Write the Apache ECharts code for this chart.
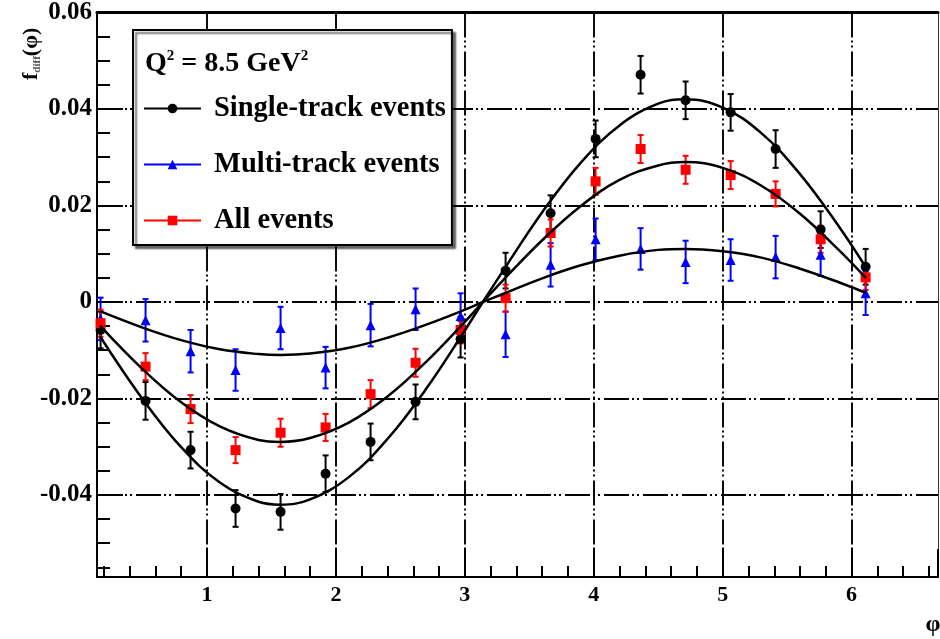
<!DOCTYPE html>
<html><head><meta charset="utf-8">
<script src="https://cdn.jsdelivr.net/npm/echarts@6/dist/echarts.min.js"></script>
<style>html,body{margin:0;padding:0;background:#fff}#c{width:940px;height:639px}</style>
</head><body><div id="c"></div>
<script>
// bin centres (phi)
const phi = [0.1745, 0.5236, 0.8727, 1.2217, 1.5708, 1.9199, 2.2689, 2.6180, 2.9671, 3.3161, 3.6652, 4.0143, 4.3633, 4.7124, 5.0615, 5.4105, 5.7596, 6.1087];
// Single-track events
const singleVal = [-0.0058, -0.0205, -0.0307, -0.0428, -0.0435, -0.0356, -0.0290, -0.0207, -0.0077, 0.0065, 0.0184, 0.0338, 0.0471, 0.0418, 0.0393, 0.0317, 0.0150, 0.0073];
const singleErr = [0.0038, 0.0039, 0.0038, 0.0038, 0.0037, 0.0038, 0.0038, 0.0036, 0.0038, 0.0037, 0.0037, 0.0038, 0.0039, 0.0039, 0.0038, 0.0039, 0.0038, 0.0037];
// Multi-track events
const multiVal = [-0.0035, -0.0038, -0.0102, -0.0141, -0.0054, -0.0136, -0.0048, -0.0015, -0.0029, -0.0067, 0.0077, 0.0130, 0.0110, 0.0083, 0.0087, 0.0093, 0.0098, 0.0018];
const multiErr = [0.0044, 0.0044, 0.0044, 0.0043, 0.0044, 0.0043, 0.0044, 0.0043, 0.0047, 0.0047, 0.0045, 0.0043, 0.0043, 0.0044, 0.0043, 0.0044, 0.0044, 0.0045];
// All events
const allVal = [-0.0044, -0.0134, -0.0222, -0.0307, -0.0271, -0.0260, -0.0191, -0.0126, -0.0058, 0.0008, 0.0143, 0.0250, 0.0317, 0.0274, 0.0263, 0.0224, 0.0130, 0.0051];
const allErr = [0.0028, 0.0028, 0.0029, 0.0027, 0.0029, 0.0028, 0.0029, 0.0029, 0.0028, 0.0028, 0.0028, 0.0028, 0.0029, 0.0029, 0.0029, 0.0026, 0.0028, 0.0026];

// fitted curves
const curveX = [0.17, 0.5, 0.8, 1.1, 1.4, 1.57, 1.8, 2.1, 2.4, 2.7, 3.0, 3.14, 3.3, 3.6, 3.9, 4.2, 4.5, 4.71, 5.0, 5.3, 5.6, 5.9, 6.11];
const singleFit = [-0.0071, -0.0201, -0.0301, -0.0374, -0.0414, -0.0420, -0.0409, -0.0363, -0.0284, -0.0180, -0.0059, 0.0000, 0.0066, 0.0186, 0.0289, 0.0366, 0.0411, 0.0420, 0.0403, 0.0350, 0.0265, 0.0157, 0.0072];
const allFit = [-0.0049, -0.0139, -0.0208, -0.0258, -0.0286, -0.0290, -0.0282, -0.0250, -0.0196, -0.0124, -0.0041, 0.0000, 0.0046, 0.0128, 0.0199, 0.0253, 0.0283, 0.0290, 0.0278, 0.0241, 0.0183, 0.0108, 0.0050];
const multiFit = [-0.0019, -0.0053, -0.0079, -0.0098, -0.0108, -0.0110, -0.0107, -0.0095, -0.0074, -0.0047, -0.0016, 0.0000, 0.0017, 0.0049, 0.0076, 0.0096, 0.0108, 0.0110, 0.0105, 0.0092, 0.0069, 0.0041, 0.0019];

const names = ['Single-track events', 'Multi-track events', 'All events'];
const FONT = "'Liberation Serif', 'DejaVu Serif', serif";
const GRIDDASH = [25, 3, 2, 3, 2, 4];

const pts = (xs, ys) => xs.map((x, i) => [x, ys[i]]);
const errPts = (xs, ys, es) => xs.map((x, i) => [x, ys[i], es[i]]);

function errRenderer(color) {
  return function (params, api) {
    const x = api.value(0), y = api.value(1), e = api.value(2);
    const t = api.coord([x, y + e]);
    const b = api.coord([x, y - e]);
    const cap = 3;
    const style = { stroke: color, lineWidth: 2 };
    return {
      type: 'group', children: [
        { type: 'line', shape: { x1: t[0], y1: t[1], x2: b[0], y2: b[1] }, style },
        { type: 'line', shape: { x1: t[0] - cap, y1: t[1], x2: t[0] + cap, y2: t[1] }, style },
        { type: 'line', shape: { x1: b[0] - cap, y1: b[1], x2: b[0] + cap, y2: b[1] }, style }
      ]
    };
  };
}

const chart = echarts.init(document.getElementById('c'), null, { renderer: 'canvas' });
const xMin = 0.147, xMax = 6.67, yMin = -0.057, yMax = 0.06;

const dataSeries = (name, vals, color, symbol, size) => ({
  name, type: 'line', data: pts(phi, vals), symbol, symbolSize: size, showSymbol: true,
  itemStyle: { color }, lineStyle: { color, width: 2, opacity: 0 }, z: 4, silent: true, animation: false
});
const errSeries = (vals, errs, color) => ({
  type: 'custom', renderItem: errRenderer(color), data: errPts(phi, vals, errs),
  encode: { x: 0, y: 1 }, z: 3, silent: true, animation: false
});
const fitSeries = (vals) => ({
  type: 'line', data: pts(curveX, vals), smooth: 0.4, showSymbol: false, symbol: 'none',
  lineStyle: { color: '#000', width: 2.5 }, z: 5, silent: true, animation: false
});

chart.setOption({
  animation: false,
  backgroundColor: '#fff',
  grid: { left: 97, right: 2, top: 12, bottom: 62, containLabel: false },
  xAxis: [{
    type: 'value', min: xMin, max: xMax, position: 'bottom',
    axisLine: { show: true, onZero: false, lineStyle: { color: '#000', width: 2 } },
    axisTick: { show: true, inside: true, length: 28, lineStyle: { color: '#000', width: 2 } },
    minorTick: { show: true, splitNumber: 5, length: 11, lineStyle: { color: '#000', width: 2 } },
    axisLabel: { showMinLabel: false, showMaxLabel: false, margin: 7, color: '#000', fontFamily: FONT, fontWeight: 'bold', fontSize: 22 },
    splitLine: { show: true, showMinLine: false, showMaxLine: false, lineStyle: { color: '#000', width: 1.9, type: GRIDDASH } }
  }, {
    type: 'value', min: xMin, max: xMax, position: 'top',
    axisLine: { show: true, onZero: false, lineStyle: { color: '#000', width: 3 } },
    axisTick: { show: false }, axisLabel: { show: false }, splitLine: { show: false }
  }],
  yAxis: [{
    type: 'value', min: yMin, max: yMax, position: 'left',
    axisLine: { show: true, onZero: false, lineStyle: { color: '#000', width: 2 } },
    axisTick: { show: true, inside: true, length: 26, lineStyle: { color: '#000', width: 2 } },
    minorTick: { show: true, splitNumber: 4, length: 13, lineStyle: { color: '#000', width: 2 } },
    axisLabel: { showMinLabel: false, margin: 5, color: '#000', fontFamily: FONT, fontWeight: 'bold', fontSize: 25 },
    splitLine: { show: true, showMinLine: false, showMaxLine: false, lineStyle: { color: '#000', width: 1.9, type: GRIDDASH } }
  }, {
    type: 'value', min: yMin, max: yMax, position: 'right',
    axisLine: { show: true, onZero: false, lineStyle: { color: '#333', width: 1 } },
    axisTick: { show: false }, axisLabel: { show: false }, splitLine: { show: false }
  }],
  title: {
    left: 140, top: 44, z: 10,
    text: '{m|Q}{s|2}{m| = 8.5 GeV}{s|2}',
    textStyle: {
      rich: {
        m: { fontFamily: FONT, fontWeight: 'bold', fontSize: 28, color: '#000', lineHeight: 30 },
        s: { fontFamily: FONT, fontWeight: 'bold', fontSize: 15, color: '#000', verticalAlign: 'top', lineHeight: 30, padding: [0, 0, 12, 0] }
      }
    }
  },
  legend: {
    orient: 'vertical', left: 133, top: 30,
    padding: [64, 6, 10, 10],
    itemGap: 27, itemWidth: 57, itemHeight: 12,
    backgroundColor: '#fff', borderColor: '#000', borderWidth: 2,
    shadowColor: 'rgba(0,0,0,0.55)', shadowOffsetX: 3, shadowOffsetY: 3, shadowBlur: 2,
    textStyle: { fontFamily: FONT, fontWeight: 'bold', fontSize: 28.5, lineHeight: 28, color: '#000', padding: [0, 0, 0, 8] },
    data: names.map(n => ({ name: n, lineStyle: { opacity: 1, width: 2 } })),
    selectedMode: false
  },
  graphic: [
    {
      type: 'text', x: 31, y: 80, rotation: Math.PI / 2, z: 10,
      style: {
        text: '{m|f}{s|diff}{m|(φ)}', align: 'left', verticalAlign: 'middle',
        rich: {
          m: { fontFamily: FONT, fontWeight: 'bold', fontSize: 22, fill: '#000', lineHeight: 24 },
          s: { fontFamily: FONT, fontWeight: 'bold', fontSize: 11, fill: '#555', verticalAlign: 'bottom', lineHeight: 24 }
        }
      }
    },
    {
      type: 'text', x: 933, y: 625, z: 10,
      style: { text: 'φ', align: 'center', verticalAlign: 'middle', font: "bold 24px 'Liberation Serif', serif", fill: '#000' }
    }
  ],
  series: [
    errSeries(singleVal, singleErr, '#000'),
    errSeries(multiVal, multiErr, '#0000ff'),
    errSeries(allVal, allErr, '#ff0000'),
    dataSeries(names[0], singleVal, '#000', 'circle', 10),
    dataSeries(names[1], multiVal, '#0000ff', 'triangle', 10),
    dataSeries(names[2], allVal, '#ff0000', 'rect', 10),
    fitSeries(singleFit),
    fitSeries(allFit),
    fitSeries(multiFit)
  ]
});
</script></body></html>
